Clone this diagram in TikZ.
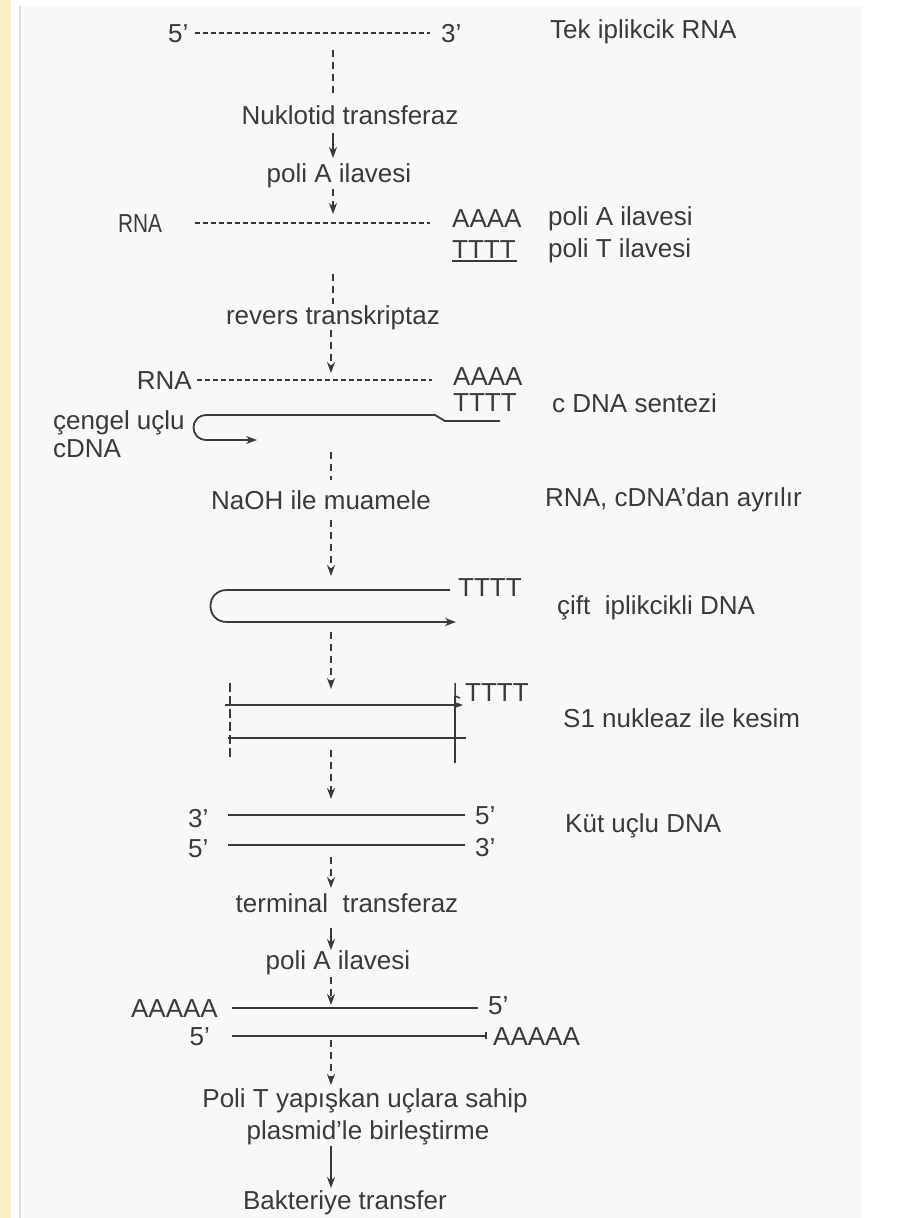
\documentclass[tikz,border=0pt]{standalone}
\usepackage{fontspec}
\setmainfont{Liberation Sans}
\usetikzlibrary{arrows.meta}
\definecolor{ink}{HTML}{3A3A3A}
\definecolor{stripe}{HTML}{FDF0C6}
\definecolor{paper}{HTML}{F8F8F8}
\definecolor{edge}{HTML}{DDDDDD}
\begin{document}
\begin{tikzpicture}[x=1pt,y=-1pt,
  txt/.style={text=ink,font=\fontsize{26}{30}\selectfont,inner sep=0pt,text height=18.5pt,text depth=0pt,anchor=west},
  ctxt/.style={txt,anchor=center},
  etxt/.style={txt,anchor=east},
  rna/.style={draw=ink,line width=1.4pt,dash pattern=on 5pt off 3pt},
  vd/.style={draw=ink,line width=1.7pt,dash pattern=on 7pt off 5pt},
  vs/.style={draw=ink,line width=1.7pt},
  tip/.style={-{Stealth[length=11pt,width=8pt]}},
  strand/.style={draw=ink,line width=1.8pt},
]
\useasboundingbox (0,0) rectangle (918,1218);
\fill[white] (0,0) rectangle (918,1218);
\fill[stripe] (0,0) rectangle (11,1218);
\fill[paper] (21,6) rectangle (862,1218);
\draw[edge,line width=2pt] (19.5,6) -- (19.5,1218);

% ---- row 1
\node[txt] (t5a) at (168,33) {5'};
\node[txt] (t3a) at (441,33) {3'};
\coordinate (r1l) at (195,33); \coordinate (r1r) at (430,33);
\draw[rna] (r1l) -- (r1r);
\node[txt] (tek) at (550,29) {Tek iplikcik RNA};
\coordinate (v1a) at (333,50); \coordinate (v1b) at (333,93);
\draw[vd] (v1a) -- (v1b);
\node[ctxt] (nuk) at (350,115) {Nuklotid transferaz};
\coordinate (v2a) at (333,133); \coordinate (v2b) at (333,158);
\draw[vs,tip] (v2a) -- (v2b);
\node[ctxt] (pA1) at (339,173) {poli A ilavesi};
\coordinate (v3a) at (333,189); \coordinate (v3b) at (333,214);
\draw[vd,tip] (v3a) -- (v3b);

% ---- row 2
\node[txt] (rna2) at (118,223) {\scalebox{0.8}[1]{RNA}};
\coordinate (r2l) at (195,223); \coordinate (r2r) at (430,223);
\draw[rna] (r2l) -- (r2r);
\node[txt] (aaaa2) at (452,218) {AAAA};
\node[txt] (pAl) at (548,216) {poli A ilavesi};
\node[txt] (tttt2) at (452,249) {TTTT};
\coordinate (u2l) at (452,261); \coordinate (u2r) at (517,261);
\draw[ink,line width=1.3pt] (u2l) -- (u2r);
\node[txt] (pTl) at (548,248) {poli T ilavesi};

% ---- row 3
\coordinate (v4a) at (333,274); \coordinate (v4b) at (333,304);
\draw[vd] (v4a) -- (v4b);
\node[ctxt] (rev) at (333,315) {revers transkriptaz};
\coordinate (v5a) at (331,330); \coordinate (v5b) at (331,373);
\draw[vd,tip] (v5a) -- (v5b);
\node[etxt] (rna3) at (192,380) {RNA};
\coordinate (r3l) at (197,380); \coordinate (r3r) at (432,380);
\draw[rna] (r3l) -- (r3r);
\node[txt] (aaaa3) at (453,376) {AAAA};
\node[txt] (tttt3) at (453,402) {TTTT};
\node[txt] (csen) at (552,403) {c DNA sentezi};
\coordinate (h1) at (500,421); \coordinate (h2) at (445,421);
\coordinate (h3) at (435,415); \coordinate (h4) at (207,415);
\coordinate (h5) at (207,440); \coordinate (h6) at (257,440);
\draw[strand,tip] (h1) -- (h2) -- (h3) -- (h4) .. controls (189,415) and (189,440) .. (h5) -- (h6);
\node[txt] (cen) at (53,420) {çengel uçlu};
\node[txt] (cdna) at (53,448) {cDNA};

% ---- row 4
\coordinate (v6a) at (331,452); \coordinate (v6b) at (331,480);
\draw[vd] (v6a) -- (v6b);
\node[ctxt] (naoh) at (321,500) {NaOH ile muamele};
\node[txt] (ayr) at (545,497) {RNA, cDNA'dan ayrılır};
\coordinate (v7a) at (331,520); \coordinate (v7b) at (331,576);
\draw[vd,tip] (v7a) -- (v7b);

% ---- row 5
\coordinate (p1) at (450,590); \coordinate (p2) at (227,590);
\coordinate (p3) at (227,622); \coordinate (p4) at (456,622);
\draw[strand,tip] (p1) -- (p2) .. controls (205,590) and (205,622) .. (p3) -- (p4);
\node[txt] (tttt5) at (458,587) {TTTT};
\node[txt] (cift) at (557,605) {çift\ \ iplikcikli DNA};

% ---- row 6
\coordinate (v8a) at (331,632); \coordinate (v8b) at (331,689);
\draw[vd,tip] (v8a) -- (v8b);
\coordinate (s1a) at (225,705); \coordinate (s1b) at (463,705);
\draw[strand,line width=1.5pt,-{Stealth[length=8pt,width=6pt]}] (s1a) -- (s1b);
\coordinate (s2a) at (228,738); \coordinate (s2b) at (466,738);
\draw[strand,line width=1.5pt] (s2a) -- (s2b);
\coordinate (c1a) at (230,683); \coordinate (c1b) at (230,758);
\draw[ink,line width=1.5pt,dash pattern=on 9pt off 4pt] (c1a) -- (c1b);
\coordinate (c2a) at (455,683); \coordinate (c2k) at (455,696);
\coordinate (c2j) at (460,698); \coordinate (c2b) at (455,763);
\draw[ink,line width=1.5pt] (c2a) -- (c2k) -- (c2j);
\draw[ink,line width=1.5pt] (c2k) -- (c2b);
\node[txt] (tttt6) at (465,692) {TTTT};
\node[txt] (s1t) at (563,718) {S1 nukleaz ile kesim};

% ---- row 7
\coordinate (v9a) at (331,750); \coordinate (v9b) at (331,799);
\draw[vd,tip] (v9a) -- (v9b);
\node[txt] (k3l) at (188,818) {3'};
\coordinate (k1a) at (228,815); \coordinate (k1b) at (465,815);
\draw[strand,line width=1.5pt] (k1a) -- (k1b);
\node[txt] (k5r) at (475,815) {5'};
\node[txt] (k5l) at (188,848) {5'};
\coordinate (k2a) at (228,845); \coordinate (k2b) at (465,845);
\draw[strand,line width=1.5pt] (k2a) -- (k2b);
\node[txt] (k3r) at (475,847) {3'};
\node[txt] (kut) at (565,823) {Küt uçlu DNA};

% ---- row 8
\coordinate (va1) at (331,857); \coordinate (va2) at (331,888);
\draw[vd,tip] (va1) -- (va2);
\node[ctxt] (term) at (347,903) {terminal\ \ transferaz};
\coordinate (vb1) at (331,928); \coordinate (vb2) at (331,950);
\draw[vs,tip] (vb1) -- (vb2);
\node[ctxt] (pA2) at (338,960) {poli A ilavesi};
\coordinate (vc1) at (331,977); \coordinate (vc2) at (331,1005);
\draw[vd,tip] (vc1) -- (vc2);
\node[etxt] (a5l) at (218,1008) {AAAAA};
\coordinate (m1a) at (232,1008); \coordinate (m1b) at (478,1008);
\draw[strand,line width=1.5pt] (m1a) -- (m1b);
\node[txt] (m5r) at (488,1005) {5'};
\node[etxt] (m5l) at (210,1036) {5'};
\coordinate (m2a) at (232,1036); \coordinate (m2b) at (486,1036);
\draw[strand,line width=1.5pt] (m2a) -- (m2b);
\draw[ink,line width=1.2pt] (m2b) ++(0,-4) -- ++(0,7);
\node[txt] (a5r) at (493,1036) {AAAAA};
\coordinate (vd1) at (331,1040); \coordinate (vd2) at (331,1085);
\draw[vd,tip] (vd1) -- (vd2);
\node[ctxt] (polT) at (365,1098) {Poli T yapışkan uçlara sahip};
\node[ctxt] (plas) at (368,1130) {plasmid'le birleştirme};
\coordinate (ve1) at (331,1146); \coordinate (ve2) at (331,1188);
\draw[vs,tip] (ve1) -- (ve2);
\node[ctxt] (bak) at (345,1200) {Bakteriye transfer};
\end{tikzpicture}
\end{document}
